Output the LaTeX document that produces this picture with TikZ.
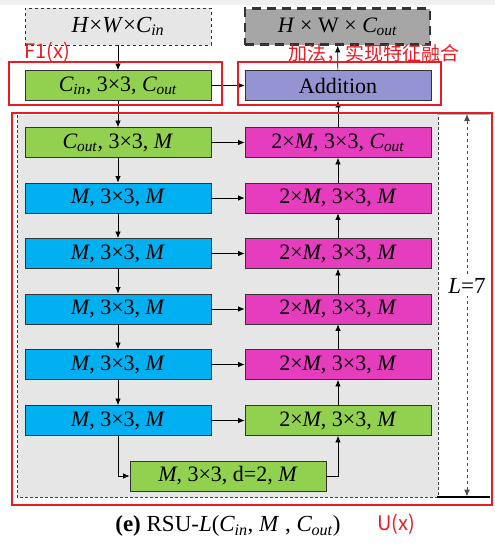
\documentclass[tikz,border=0pt]{standalone}
\usepackage{fontspec}
\setmainfont{Liberation Serif}
\newfontfamily\cjk{Noto Sans CJK SC}
\usetikzlibrary{arrows.meta,positioning}
\definecolor{boxgreen}{RGB}{146,208,80}
\definecolor{boxblue}{RGB}{0,176,240}
\definecolor{boxmag}{RGB}{230,60,190}
\definecolor{boxadd}{RGB}{148,148,210}
\definecolor{regiongray}{RGB}{230,230,230}
\definecolor{outgray}{RGB}{166,166,166}
\definecolor{redmark}{RGB}{232,28,36}
\newcommand{\Cin}{\textit{C}\kern-0.5pt\textsubscript{\textit{in}}}
\newcommand{\Cout}{\textit{C}\kern-0.5pt\textsubscript{\textit{out}}}
\newcommand{\tm}{\texttimes}
\tikzset{
  blk/.style={draw=black!80, line width=0.8pt, minimum width=186pt, minimum height=30pt, inner sep=0pt, font=\fontsize{22}{26}\selectfont},
  gbox/.style={blk, fill=boxgreen},
  bbox/.style={blk, fill=boxblue},
  mbox/.style={blk, fill=boxmag},
  arr/.style={-{Latex[length=6.5pt,width=5.5pt]}, line width=0.7pt, black},
  redbox/.style={draw=redmark, line width=2pt},
  redtxt/.style={text=redmark, font=\cjk\fontsize{19}{22}\selectfont, inner sep=0pt}
}
\begin{document}
\begin{tikzpicture}[x=1pt,y=-1pt]
\useasboundingbox (0,0) rectangle (495,552);
\fill[white] (0,0) rectangle (495,552);
\fill[black!6] (0,0) rectangle (495,5);
% gray region
\fill[regiongray] (17,115) rectangle (438,497);
\draw[black!75, line width=0.6pt, densely dashed] (17,115) -- (17,497) -- (438,497) -- (438,115);
% input / output
\node[draw=black!80, dashed, line width=0.8pt, fill=regiongray, minimum width=186pt, minimum height=37pt, inner sep=0pt, font=\fontsize{23}{27}\selectfont] (in) at (118,26.5) {\textit{H}\tm\textit{W}\tm\Cin};
\node[draw=black!80, line width=2.6pt, dash pattern=on 9pt off 6pt, fill=outgray, minimum width=185pt, minimum height=36pt, inner sep=0pt, font=\fontsize{22}{26}\selectfont] (out) at (337.5,26.5) {\textit{H} \tm{} W \tm{} \Cout};
% top row
\node[gbox] (c0) at (118,85.5) {\Cin, 3\tm3, \Cout};
\node[blk, fill=boxadd] (add) at (338,85.5) {Addition};
% left column
\node[gbox] (l1) at (118,142.5) {\Cout, 3\tm3, \textit{M}};
\node[bbox] (l2) at (118,198) {\textit{M}, 3\tm3, \textit{M}};
\node[bbox] (l3) at (118,253.5) {\textit{M}, 3\tm3, \textit{M}};
\node[bbox] (l4) at (118,309) {\textit{M}, 3\tm3, \textit{M}};
\node[bbox] (l5) at (118,364.5) {\textit{M}, 3\tm3, \textit{M}};
\node[bbox] (l6) at (118,420.5) {\textit{M}, 3\tm3, \textit{M}};
% right column
\node[mbox] (r1) at (338,142.5) {2\tm\textit{M}, 3\tm3, \Cout};
\node[mbox] (r2) at (338,198) {2\tm\textit{M}, 3\tm3, \textit{M}};
\node[mbox] (r3) at (338,253.5) {2\tm\textit{M}, 3\tm3, \textit{M}};
\node[mbox] (r4) at (338,309) {2\tm\textit{M}, 3\tm3, \textit{M}};
\node[mbox] (r5) at (338,364.5) {2\tm\textit{M}, 3\tm3, \textit{M}};
\node[gbox] (r6) at (338,420.5) {2\tm\textit{M}, 3\tm3, \textit{M}};
% bottom
\node[gbox, minimum width=196pt] (bt) at (228,476) {\textit{M}, 3\tm3, d=2, \textit{M}};
% arrows
\draw[arr] (in) -- (c0);
\draw[arr] (c0) -- (add);
\draw[arr] (c0) -- (l1);
\draw[arr] (l1) -- (l2);
\draw[arr] (l2) -- (l3);
\draw[arr] (l3) -- (l4);
\draw[arr] (l4) -- (l5);
\draw[arr] (l5) -- (l6);
\draw[arr] (l1) -- (r1);
\draw[arr] (l2) -- (r2);
\draw[arr] (l3) -- (r3);
\draw[arr] (l4) -- (r4);
\draw[arr] (l5) -- (r5);
\draw[arr] (l6) -- (r6);
\draw[arr] (l6.south) |- (bt.west);
\draw[arr] (bt.east) -| (r6.south);
\draw[arr] (r6) -- (r5);
\draw[arr] (r5) -- (r4);
\draw[arr] (r4) -- (r3);
\draw[arr] (r3) -- (r2);
\draw[arr] (r2) -- (r1);
\draw[arr] (r1) -- (add);
\draw[arr] (add) -- (out);
% dimension
\coordinate (dtop) at (467,114);
\coordinate (dbot) at (467,496.5);
\draw[black!30, line width=1pt] (437,114) -- (490,114);
\draw[black, line width=2pt] (437,496.5) -- (490,496.5);
\draw[black!70, line width=1pt, dashed, {Latex[length=7pt,width=6pt]}-{Latex[length=7pt,width=6pt]}] (dtop) -- (dbot);
\node[fill=white, inner sep=2pt, font=\fontsize{23}{27}\selectfont] (lab) at (467,286) {\textit{L}=7};
% red annotations
\draw[redbox] (9,62) rectangle (222,105);
\draw[redbox] (238,62) rectangle (441,105);
\draw[redbox] (12,113) rectangle (492,505);
\node[redtxt, font=\cjk\fontsize{20}{23}\selectfont, anchor=west] (f1) at (24,52) {F1(x)};
\node[redtxt, anchor=west] (zh) at (288,53) {加法，实现特征融合};
\node[redtxt, font=\cjk\fontsize{20}{23}\selectfont, anchor=west] (ux) at (377,524) {U(x)};
% caption
\node[font=\fontsize{23}{27}\selectfont, inner sep=0pt] (cap) at (228,526) {\textbf{(e)} RSU-\textit{L}(\Cin, \textit{M} , \Cout)};
\end{tikzpicture}
\end{document}
